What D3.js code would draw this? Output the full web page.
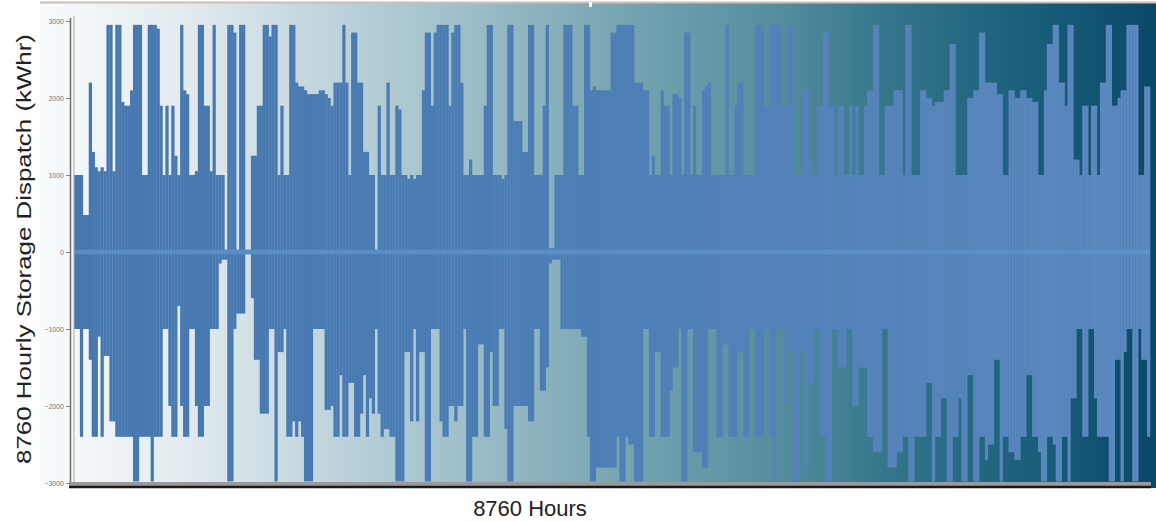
<!DOCTYPE html>
<html>
<head>
<meta charset="utf-8">
<script src="https://cdn.jsdelivr.net/npm/d3@7"></script>
<style>
  html, body { margin: 0; padding: 0; background: #ffffff; }
  svg { display: block; }
</style>
</head>
<body>
<svg id="chart" width="1156" height="521"></svg>
<script>
// ---- Data (one value per day of the 8760-hour year) ----
const hoursInYear = 8760;
const hoursPerDay = 24;
// daily peak discharge (positive, kWhr)
const dischargePeak = [
  1000,1000,1000,480,480,2200,1300,1100,1050,1100,
  1050,2950,2950,1050,2950,2950,1950,1900,1900,2100,
  2950,2950,2950,1000,1000,2950,2950,2950,2900,1900,
  1000,1900,1000,1900,1250,1000,2950,2100,2050,1000,
  1000,1050,2950,2950,1900,1900,1050,2950,1000,1000,
  1000,30,2950,2950,2850,30,2950,2950,30,30,
  1250,1250,1900,1900,2950,2950,2800,2950,2950,1000,
  1900,1000,1000,2950,2950,2200,2150,2150,2100,2050,
  2050,2050,2050,2100,2100,2050,2000,1900,2200,2200,
  2200,2950,2200,1000,2850,2850,2200,2200,1300,1300,
  1000,1000,30,1900,1000,1000,2200,1000,1000,1900,
  1850,1000,1000,950,1000,950,1000,1000,2100,2850,
  2850,1900,2850,2950,2950,2950,2950,1900,2850,2950,
  2950,2200,1000,1000,1200,1000,1000,1000,1000,1900,
  2950,2950,1000,1000,1000,950,1000,2950,2950,1700,
  1700,1700,1300,1300,2950,2950,1000,1000,1000,1900,
  2950,50,50,1000,1000,1000,2950,2950,2950,1900,
  1900,1000,1000,2950,2950,2100,2150,2100,2100,2100,
  2100,2100,2850,2850,2950,2950,2950,2950,2950,2950,
  2200,2200,2200,2100,2100,1000,1250,1000,1000,2100,
  1900,1900,1000,2050,2050,2000,1000,2850,2850,1000,
  1900,1000,1000,2100,2150,2200,1000,1000,1000,1000,
  1000,2950,1000,1000,1900,2200,2200,1000,1000,1000,
  1000,2950,2950,2950,1900,1900,2950,2950,2950,2950,
  1900,1900,2950,2950,1000,1000,1000,2100,2100,1200,
  1000,1000,1900,1900,2850,2850,1900,1900,1000,1900,
  1900,1000,1000,1900,1000,1900,1000,1000,1900,2100,
  2100,2950,2950,1000,1000,1900,1900,1900,2100,2100,
  2100,1000,2950,2950,1000,1000,1000,2100,2100,2000,
  2000,1900,1950,1950,1950,2100,2100,2700,2700,1000,
  1000,1000,1000,2000,2000,2100,2100,2850,2850,2200,
  2200,2200,2200,2050,2050,1000,1000,2100,2100,2000,
  2000,2100,2100,2000,2000,1950,1950,1000,1000,2100,
  2700,2700,2950,2950,2200,2200,1900,2950,2950,1200,
  1200,1000,1900,1900,1000,1900,1900,1000,2200,2200,
  2950,2950,1900,1900,2000,2100,2100,2950,2950,2950,
  2950,1000,1000,2150,2150
];
// daily peak charge (negative, kWhr)
const chargePeak = [
  -1000,-1000,-2400,-1000,-1000,-1400,-2400,-2400,-1100,-2400,
  -1350,-1350,-2200,-2200,-2400,-2400,-2400,-2400,-2400,-2400,
  -2980,-2980,-2400,-2400,-2400,-2400,-2980,-2400,-2400,-2400,
  -1000,-1000,-2000,-2400,-2400,-700,-2000,-2400,-2400,-1000,
  -1000,-2000,-2400,-2400,-2000,-2000,-1000,-1000,-1000,-150,
  -100,-100,-2980,-2980,-1000,-800,-800,-800,-30,-30,
  -600,-1400,-1400,-2100,-2100,-2100,-1000,-1000,-2980,-1300,
  -1300,-1000,-2400,-2400,-2200,-2400,-2200,-2400,-2980,-2980,
  -2980,-1000,-1000,-1000,-1000,-2050,-2050,-2000,-2400,-2400,
  -1600,-2400,-2400,-1700,-1700,-2400,-2400,-2100,-1600,-2400,
  -1900,-2100,-1000,-2100,-2400,-2300,-2300,-2400,-2400,-2980,
  -2980,-2980,-1300,-1300,-2200,-1000,-2200,-1300,-1300,-2980,
  -2980,-1000,-1000,-1000,-2200,-2400,-2400,-2000,-2000,-2200,
  -2000,-2000,-1000,-2980,-2980,-2400,-2400,-1200,-1200,-2400,
  -2400,-1300,-2000,-2000,-1000,-1000,-2300,-2980,-2980,-2000,
  -2000,-2000,-2000,-2000,-2200,-2200,-1000,-1000,-1800,-1800,
  -1500,-150,-100,-100,-100,-1000,-1000,-1000,-1000,-1000,
  -1000,-1000,-1100,-1100,-2400,-2980,-2980,-2800,-2800,-2800,
  -2800,-2800,-2800,-2800,-2400,-2980,-2980,-2400,-2500,-2500,
  -2980,-2980,-2980,-1000,-1000,-2400,-2400,-1300,-1300,-2400,
  -2400,-2400,-1800,-1500,-1500,-1000,-2980,-2980,-1000,-1000,
  -2600,-2600,-2600,-2800,-2800,-1000,-1000,-1000,-2400,-2400,
  -1200,-1200,-2400,-2400,-2400,-1300,-1300,-2400,-2400,-1000,
  -1000,-2400,-2400,-2400,-1000,-1000,-2400,-2980,-1000,-1000,
  -1000,-2000,-1300,-1300,-2980,-2980,-1300,-1300,-2800,-1700,
  -1700,-1000,-1000,-2400,-2400,-2980,-2980,-1000,-1000,-1500,
  -1500,-1500,-1000,-1000,-2000,-2000,-1500,-1500,-1500,-2400,
  -2400,-2600,-2600,-2600,-1000,-1000,-2800,-2800,-2800,-2600,
  -2600,-2400,-2400,-2980,-2980,-2400,-2400,-2400,-2400,-1700,
  -1700,-2980,-2400,-2400,-1900,-1900,-2980,-2980,-2400,-2400,
  -1900,-2980,-2980,-1600,-1600,-2980,-2980,-2400,-2400,-2700,
  -2500,-2500,-1400,-1400,-2980,-2400,-2400,-2600,-2600,-2700,
  -2700,-2400,-2400,-1600,-1600,-2400,-2400,-2600,-2980,-2980,
  -2400,-2400,-2500,-2980,-2980,-2400,-2400,-2980,-1900,-1900,
  -1000,-1000,-2400,-2400,-1000,-1000,-1900,-2400,-2400,-2400,
  -2400,-2980,-2980,-1400,-1400,-2980,-1300,-1000,-1000,-2980,
  -2980,-1000,-1400,-1400,-2400
];
const yTickValues = [3000, 2000, 1000, 0, -1000, -2000, -3000];
const yTitle = "8760 Hourly Storage Dispatch (kWhr)";
const xTitle = "8760 Hours";

// ---- Layout ----
const svg = d3.select("#chart");
const plot = { left: 74, right: 1150, top: 21, bottom: 483 };

const x = d3.scaleLinear().domain([0, hoursInYear]).range([plot.left, plot.right]);
const y = d3.scaleLinear().domain([-3000, 3000]).range([plot.bottom, plot.top]);

const defs = svg.append("defs");
const bg = defs.append("linearGradient").attr("id", "bg")
  .attr("x1", "0%").attr("x2", "100%").attr("y1", "0%").attr("y2", "0%");
[[0, "#f8fbfc"], [0.14, "#e0eaee"], [0.27, "#bcd2da"], [0.41, "#95b9c4"],
 [0.52, "#77a5b1"], [0.645, "#5891a1"], [0.77, "#327389"], [0.89, "#195e7a"], [1, "#0b4868"]]
  .forEach(([o, c]) => bg.append("stop").attr("offset", o).attr("stop-color", c));

const barGrad = defs.append("linearGradient").attr("id", "barGrad")
  .attr("gradientUnits", "userSpaceOnUse")
  .attr("x1", plot.left).attr("x2", plot.right).attr("y1", 0).attr("y2", 0);
[[0, "#4777af"], [0.5, "#4e7eb6"], [1, "#5b89bf"]]
  .forEach(([o, c]) => barGrad.append("stop").attr("offset", o).attr("stop-color", c));

// chart background
svg.append("rect").attr("x", 40).attr("y", 3).attr("width", 1116).attr("height", 485)
  .attr("fill", "url(#bg)");
// top border
svg.append("line").attr("x1", 40).attr("x2", 1156).attr("y1", 2.5).attr("y2", 2.5)
  .attr("stroke", "#cdbdb4").attr("stroke-width", 2);
svg.append("rect").attr("x", 589).attr("y", 2).attr("width", 3).attr("height", 5).attr("fill", "#ffffff");

// ---- Bars ----
const dayW = x(hoursPerDay) - x(0);
const days = d3.range(dischargePeak.length);
const gBars = svg.append("g").attr("fill", "url(#barGrad)");
gBars.selectAll("rect.pos").data(days).join("rect").attr("class", "pos")
  .attr("x", d => x(d * hoursPerDay))
  .attr("width", dayW + 0.3)
  .attr("y", d => y(dischargePeak[d]))
  .attr("height", d => y(0) - y(dischargePeak[d]));
gBars.selectAll("rect.neg").data(days).join("rect").attr("class", "neg")
  .attr("x", d => x(d * hoursPerDay))
  .attr("width", dayW + 0.3)
  .attr("y", y(0))
  .attr("height", d => y(chargePeak[d]) - y(0));

// light band around zero (dense small hourly values)
svg.append("rect").attr("x", plot.left).attr("width", plot.right - plot.left)
  .attr("y", y(30)).attr("height", y(-30) - y(30))
  .attr("fill", "#6096cc").attr("opacity", 0.7);

// ---- Y axis ----
const yAxis = d3.axisLeft(y).tickValues(yTickValues).tickSize(4).tickPadding(2)
  .tickFormat(d3.format("d"));
const gy = svg.append("g").attr("transform", `translate(${plot.left - 4},0)`).call(yAxis);
gy.select(".domain").remove();
gy.selectAll(".tick line").attr("stroke", "#888");
gy.selectAll(".tick text").attr("fill", "#777").attr("font-size", 7)
  .attr("font-family", "Liberation Sans, Arial, sans-serif");
// 3D wall edge lines
svg.append("line").attr("x1", plot.left - 3.5).attr("x2", plot.left - 3.5)
  .attr("y1", 18).attr("y2", 487).attr("stroke", "#6d6d6d").attr("stroke-width", 1.5);
svg.append("line").attr("x1", plot.left).attr("x2", plot.left)
  .attr("y1", 16).attr("y2", 484).attr("stroke", "#a9a9a9").attr("stroke-width", 1);

// ---- X axis (floor) ----
svg.append("rect").attr("x", plot.left - 5).attr("y", 482).attr("width", plot.right - plot.left + 6)
  .attr("height", 4).attr("fill", "#9a9a9a");
svg.append("line").attr("x1", plot.left - 5).attr("x2", plot.right + 1)
  .attr("y1", 487).attr("y2", 487).attr("stroke", "#1a1a1a").attr("stroke-width", 2.5);

// ---- Titles ----
svg.append("text").attr("x", 530).attr("y", 516).attr("text-anchor", "middle")
  .attr("font-family", "Liberation Sans, Arial, sans-serif").attr("font-size", 22)
  .attr("fill", "#222").text(xTitle);
svg.append("text")
  .attr("transform", "translate(31,249) rotate(-90)")
  .attr("text-anchor", "middle")
  .attr("font-family", "Liberation Sans, Arial, sans-serif").attr("font-size", 21)
  .attr("textLength", 430).attr("lengthAdjust", "spacingAndGlyphs")
  .attr("fill", "#222").text(yTitle);
</script>
</body>
</html>
